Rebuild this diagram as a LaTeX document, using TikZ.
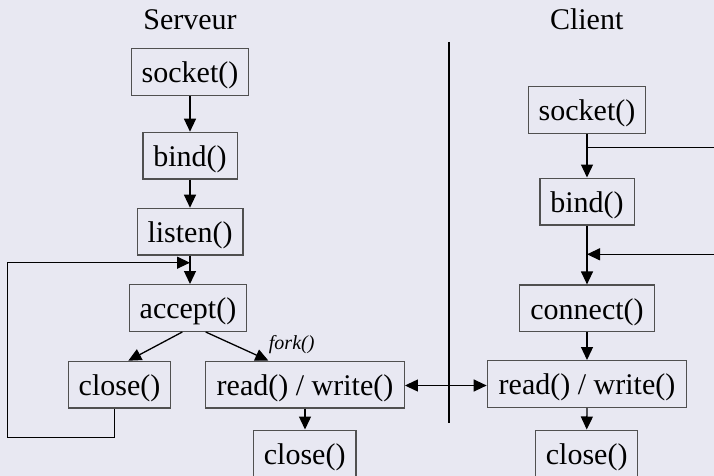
\documentclass[tikz,border=0pt]{standalone}
\usepackage{fontspec}
\setmainfont{Liberation Serif}
\usetikzlibrary{arrows.meta}
\definecolor{bgcol}{RGB}{232,232,242}
\definecolor{boxgray}{RGB}{80,80,80}
\tikzset{
  fn/.style={draw=boxgray, line width=1.3pt, inner sep=0pt, minimum height=46.7pt,
             text height=21.5pt, text depth=0pt,
             font=\fontsize{30}{32}\selectfont, anchor=center},
  hdr/.style={font=\fontsize{30}{32}\selectfont, anchor=base, inner sep=0pt},
  arr/.style={line width=1.3pt, -{Triangle[length=13pt,width=12pt]}},
  darr/.style={line width=1.3pt, {Triangle[length=13pt,width=12pt]}-{Triangle[length=13pt,width=12pt]}},
  plain/.style={line width=1.3pt},
}
\begin{document}
\begin{tikzpicture}[x=1pt,y=-1pt]
  \fill[bgcol] (0,0) rectangle (714,476);
  \useasboundingbox (0,0) rectangle (714,476);
  \begin{scope}
  \clip (0,0) rectangle (714,476);

  % column headings and separator
  \node[hdr] (hserv) at (190,29.3) {Serveur};
  \node[hdr] (hcli) at (586.7,29.3) {Client};
  \coordinate (septop) at (449.3,42);
  \coordinate (sepbot) at (449.3,423.3);
  \draw[line width=1.7pt] (septop) -- (sepbot);

  % server side
  \node[fn, minimum width=117pt]   (ssock)   at (190,72)     {socket()};
  \node[fn, minimum width=94.3pt]  (sbind)   at (190,155.7)  {bind()};
  \node[fn, minimum width=105.7pt] (slisten) at (190,231.7)  {listen()};
  \node[fn, minimum width=117.4pt] (saccept) at (188,308)    {accept()};
  \node[fn, minimum width=102.4pt] (sclosea) at (119.5,384.7){close()};
  \node[fn, minimum width=198.6pt] (srw)     at (305,384.5)  {read() / write()};
  \node[fn, minimum width=102.7pt] (sclose)  at (304.7,453.5){close()};

  \draw[arr] (ssock.south) -- (sbind.north);
  \draw[arr] (sbind.south) -- (slisten.north);
  \draw[arr] (slisten.south) -- (slisten.south |- saccept.north);
  \draw[arr] ([xshift=-5.7pt]saccept.south) -- ([xshift=8.8pt]sclosea.north);
  \draw[arr] ([xshift=17.7pt]saccept.south) -- ([xshift=-36.7pt]srw.north);
  \node[font=\itshape\fontsize{20}{22}\selectfont, anchor=base, inner sep=0pt] (fork) at (291.7,349) {fork()};
  \draw[arr] (srw.south) -- (srw.south |- sclose.north);

  % loop back from close() to accept()
  \coordinate (loopin) at (190,262.7);
  \draw[arr] ([xshift=-5.2pt]sclosea.south) -- ++(0,29) -| (7.3,262.7) -- (loopin);

  % client side
  \node[fn, minimum width=117.4pt] (csock)  at (587,110)    {socket()};
  \node[fn, minimum width=94.3pt]  (cbind)  at (587,201.5)  {bind()};
  \node[fn, minimum width=135pt]   (cconn)  at (587,308.4)  {connect()};
  \node[fn, minimum width=199.4pt] (crw)    at (587,384)    {read() / write()};
  \node[fn, minimum width=102pt]   (cclose) at (586.7,453.5){close()};

  \coordinate (branch) at (587,147.3);
  \coordinate (branchend) at (714,147.3);
  \coordinate (joinend) at (714,254.3);
  \coordinate (join) at (587,254.3);
  \draw[arr] (csock.south) -- (cbind.north);
  \draw[plain] (branch) -- (branchend);
  \draw[arr] (cbind.south) -- (cconn.north);
  \draw[arr] (joinend) -- (join);
  \draw[arr] (cconn.south) -- (crw.north);
  \draw[arr] (crw.south) -- (cclose.north);

  % data exchange
  \draw[darr] ([yshift=-1pt]srw.east) -- ([yshift=-1pt]srw.east -| crw.west);
  \end{scope}
\end{tikzpicture}
\end{document}
